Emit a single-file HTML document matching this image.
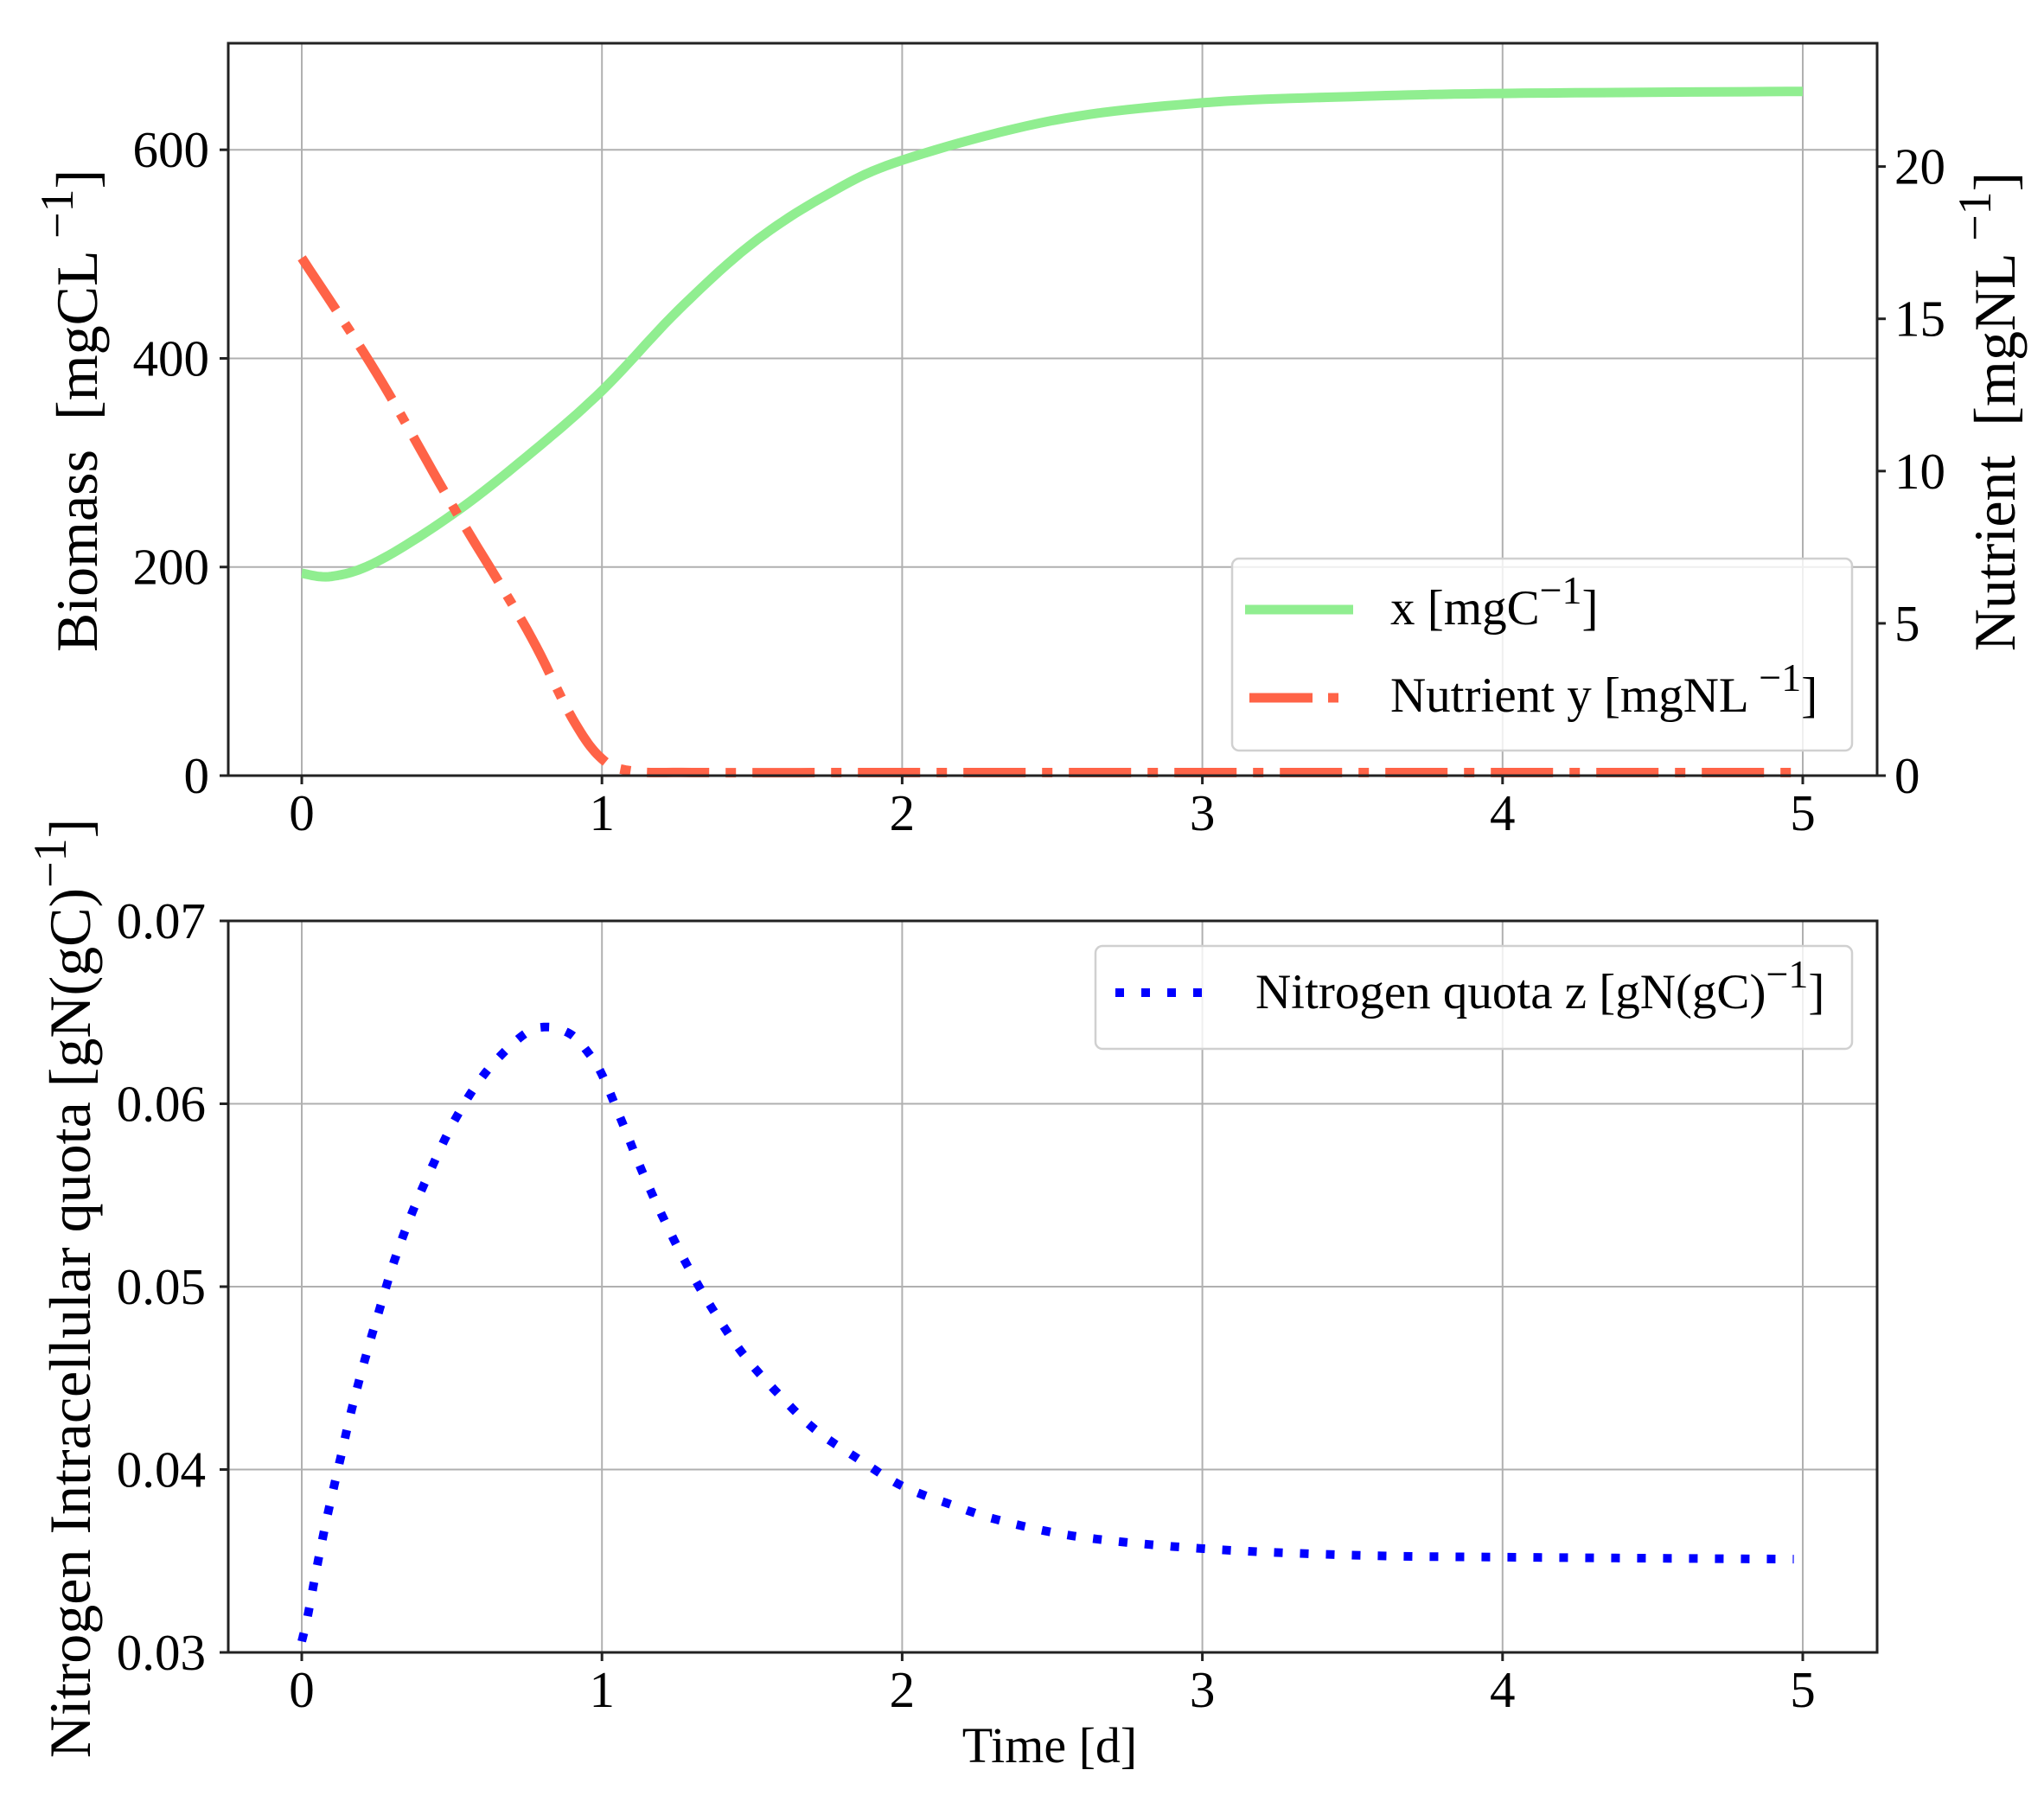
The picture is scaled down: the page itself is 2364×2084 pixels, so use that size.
<!DOCTYPE html>
<html><head><meta charset="utf-8"><style>
html,body{margin:0;padding:0;background:#fff}
svg{display:block}
text{font-family:"Liberation Serif","DejaVu Serif",serif;fill:#000}
</style></head><body>
<svg id="s" width="2364" height="2084" viewBox="0 0 2364 2084" xmlns="http://www.w3.org/2000/svg">
<rect width="2364" height="2084" fill="#fff"/>
<g id="grid" stroke="#b0b0b0" stroke-width="2"></g>
<path id="green" fill="none" stroke="#90EE90" stroke-width="11" stroke-linejoin="round"/>
<path id="red" fill="none" stroke="#FF6347" stroke-width="11" stroke-dasharray="72 19 12 19"/>
<path id="blue" fill="none" stroke="#0000FF" stroke-width="10" stroke-dasharray="10 20"/>
<g id="axes" stroke="#222" stroke-width="3" fill="none"></g>
<g id="labels" font-size="59"></g>
<!-- legend top -->
<rect x="1425" y="646" width="717" height="222" rx="8" fill="#fff" fill-opacity="0.8" stroke="#d0d0d0" stroke-width="2.5"/>
<line x1="1440" y1="705" x2="1565" y2="705" stroke="#90EE90" stroke-width="11"/>
<line x1="1445" y1="807" x2="1518" y2="807" stroke="#FF6347" stroke-width="11"/>
<line x1="1536" y1="807" x2="1548" y2="807" stroke="#FF6347" stroke-width="11"/>
<text x="1608" y="722" font-size="57">x [mgC<tspan dy="-24" font-size="46">−1</tspan><tspan dy="24">]</tspan></text>
<text x="1608" y="823" font-size="57">Nutrient y [mgNL<tspan dy="-24" font-size="46"> −1</tspan><tspan dy="24">]</tspan></text>
<!-- legend bottom -->
<rect x="1267" y="1094" width="875" height="119" rx="8" fill="#fff" fill-opacity="0.8" stroke="#d0d0d0" stroke-width="2.5"/>
<line x1="1290" y1="1148" x2="1400" y2="1148" stroke="#0000FF" stroke-width="10" stroke-dasharray="10 20"/>
<text x="1452" y="1166" font-size="57">Nitrogen quota z [gN(gC)<tspan dy="-24" font-size="46">−1</tspan><tspan dy="24">]</tspan></text>
<!-- axis labels -->
<text transform="translate(112,475) rotate(-90)" text-anchor="middle" font-size="68" xml:space="preserve">Biomass  [mgCL<tspan dy="-28" font-size="54"> −1</tspan><tspan dy="28">]</tspan></text>
<text transform="translate(2330,476) rotate(-90)" text-anchor="middle" font-size="68" xml:space="preserve">Nutrient  [mgNL<tspan dy="-28" font-size="54"> −1</tspan><tspan dy="28">]</tspan></text>
<text transform="translate(104,1490) rotate(-90)" text-anchor="middle" font-size="68">Nitrogen Intracellular quota [gN(gC)<tspan dy="-28" font-size="54">−1</tspan><tspan dy="28">]</tspan></text>
<text x="1214" y="2038" text-anchor="middle" font-size="58">Time [d]</text>
</svg>
<script>
var NS="http://www.w3.org/2000/svg";
function X(t){return 349+347.2*t}
var L=264,R=2171,T1=50,B1=897,T2=1065,B2=1911;
function yl(v){return B1-v*1.2063}
function yr(v){return B1-v*35.22}
function yb(v){return B2-(v-0.03)*21150}
var grid=document.getElementById('grid'),axes=document.getElementById('axes'),lab=document.getElementById('labels');
function ln(g,x1,y1,x2,y2){var e=document.createElementNS(NS,'line');e.setAttribute('x1',x1);e.setAttribute('y1',y1);e.setAttribute('x2',x2);e.setAttribute('y2',y2);g.appendChild(e);}
function tx(x,y,s,a){var e=document.createElementNS(NS,'text');e.setAttribute('x',x);e.setAttribute('y',y);e.setAttribute('text-anchor',a);e.textContent=s;lab.appendChild(e);}
for(var t=0;t<=5;t++){var x=X(t);
 ln(grid,x,T1,x,B1);ln(grid,x,T2,x,B2);
 ln(axes,x,B1,x,B1+10);ln(axes,x,B2,x,B2+10);
 tx(x,960,''+t,'middle');tx(x,1974,''+t,'middle');}
[0,200,400,600].forEach(function(v){var y=yl(v);ln(grid,L,y,R,y);ln(axes,L-10,y,L,y);tx(242,y+20,''+v,'end');});
[0,5,10,15,20].forEach(function(v){var y=yr(v);ln(axes,R,y,R+10,y);tx(2191,y+20,''+v,'start');});
['0.03','0.04','0.05','0.06','0.07'].forEach(function(s){var v=parseFloat(s),y=yb(v);ln(grid,L,y,R,y);ln(axes,L-10,y,L,y);tx(238,y+20,s,'end');});
function rect(t,b){var e=document.createElementNS(NS,'rect');e.setAttribute('x',L);e.setAttribute('y',t);e.setAttribute('width',R-L);e.setAttribute('height',b-t);axes.appendChild(e);}
rect(T1,B1);rect(T2,B2);
function cr(pts){var d='M'+pts[0][0].toFixed(1)+','+pts[0][1].toFixed(1);
 for(var i=0;i<pts.length-1;i++){var p0=pts[Math.max(0,i-1)],p1=pts[i],p2=pts[i+1],p3=pts[Math.min(pts.length-1,i+2)];
  for(var k=1;k<=12;k++){var s=k/12,s2=s*s,s3=s2*s;
   var x=0.5*((2*p1[0])+(-p0[0]+p2[0])*s+(2*p0[0]-5*p1[0]+4*p2[0]-p3[0])*s2+(-p0[0]+3*p1[0]-3*p2[0]+p3[0])*s3);
   var y=0.5*((2*p1[1])+(-p0[1]+p2[1])*s+(2*p0[1]-5*p1[1]+4*p2[1]-p3[1])*s2+(-p0[1]+3*p1[1]-3*p2[1]+p3[1])*s3);
   d+=' L'+x.toFixed(1)+','+y.toFixed(1);}}
 return d;}
var g=[[0,194],[0.1,191],[0.25,205],[0.5,250],[0.75,306],[1,369],[1.25,445],[1.5,510],[1.75,557],[2,590],[2.5,628],[3,645],[3.5,651],[4,654],[5,656]];
document.getElementById('green').setAttribute('d',cr(g.map(function(p){return [X(p[0]),yl(p[1])]})));
var r=[[0,17],[0.25,13.2],[0.5,8.9],[0.75,4.8],[0.9,1.9],[1,0.55],[1.1,0.15],[1.3,0.1],[2,0.1],[3,0.1],[4,0.1],[5,0.1]];
document.getElementById('red').setAttribute('d',cr(r.map(function(p){return [X(p[0]),yr(p[1])]})));
var b=[[0,0.0306],[0.02,0.032],[0.052,0.0348],[0.087,0.0376],[0.126,0.0404],[0.165,0.0432],[0.21,0.046],[0.258,0.0487],[0.308,0.0514],[0.369,0.0541],[0.438,0.0567],[0.516,0.0593],[0.612,0.0617],[0.733,0.0637],[0.813,0.0642],[0.896,0.0638],[0.954,0.0628],[1,0.0616],[1.067,0.059],[1.134,0.0563],[1.206,0.0537],[1.286,0.0511],[1.375,0.0486],[1.471,0.0463],[1.584,0.0442],[1.709,0.0422],[1.852,0.0406],[2,0.0391],[2.16,0.0381],[2.33,0.0372],[2.6,0.0363],[3.015,0.03566],[3.54,0.0353],[4.07,0.0352],[4.97,0.0351]];
document.getElementById('blue').setAttribute('d',cr(b.map(function(p){return [X(p[0]),yb(p[1])]})));
</script>
</body></html>
